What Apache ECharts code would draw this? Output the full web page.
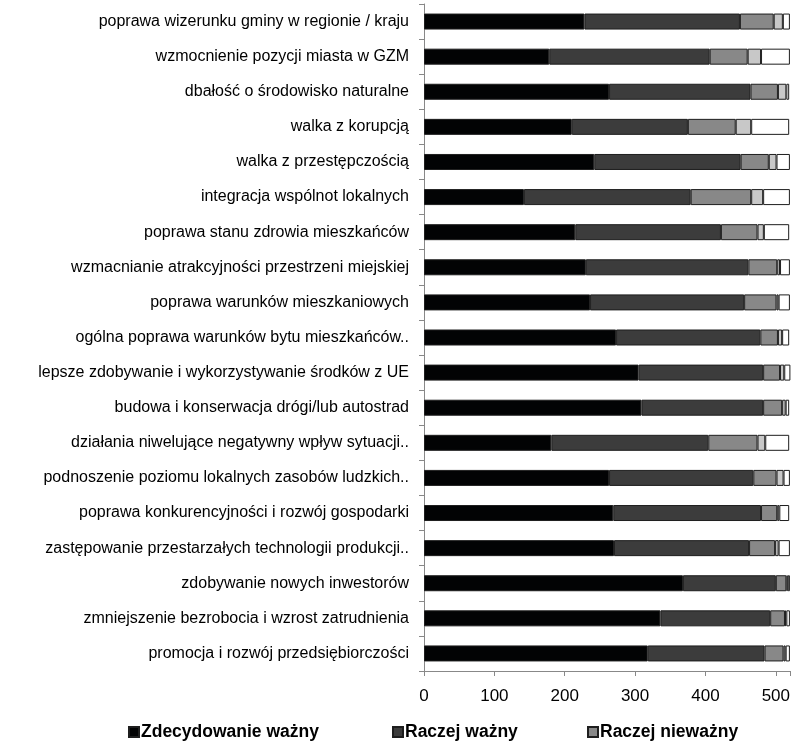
<!DOCTYPE html>
<html>
<head>
<meta charset="utf-8">
<script src="https://cdn.jsdelivr.net/npm/echarts@6/dist/echarts.min.js"></script>
<style>
html,body{margin:0;padding:0;background:#fff;}
#chart{width:793px;height:745px;}
</style>
</head>
<body>
<div id="chart"></div>
<script>
const categories = [
  "poprawa wizerunku gminy w regionie / kraju",
  "wzmocnienie pozycji miasta w GZM",
  "dbałość o środowisko naturalne",
  "walka z korupcją",
  "walka z przestępczością",
  "integracja wspólnot lokalnych",
  "poprawa stanu zdrowia mieszkańców",
  "wzmacnianie atrakcyjności przestrzeni miejskiej",
  "poprawa warunków mieszkaniowych",
  "ogólna poprawa warunków bytu mieszkańców..",
  "lepsze zdobywanie i wykorzystywanie środków z UE",
  "budowa i konserwacja drógi/lub autostrad",
  "działania niwelujące negatywny wpływ sytuacji..",
  "podnoszenie poziomu lokalnych zasobów ludzkich..",
  "poprawa konkurencyjności i rozwój gospodarki",
  "zastępowanie przestarzałych technologii produkcji..",
  "zdobywanie nowych inwestorów",
  "zmniejszenie bezrobocia i wzrost zatrudnienia",
  "promocja i rozwój przedsiębiorczości"
];
const seriesNames = ["Zdecydowanie ważny", "Raczej ważny", "Raczej nieważny", "Zdecydowanie nieważny", "Trudno powiedzieć"];
const zdecydowanieWazny   = [228, 178, 263, 210, 242, 142, 215, 230, 236, 273, 305, 309, 181, 263, 269, 270, 368, 336, 318];
const raczejWazny         = [221, 228, 201, 165, 208, 237, 207, 231, 219, 205, 177, 173, 223, 205, 210, 192, 132, 156, 166];
const raczejNiewazny      = [ 48,  54,  39,  68,  40,  86,  52,  41,  46,  25,  24,  27,  70,  33,  23,  37,  15,  21,  27];
const zdecydowanieNiewazny= [ 13,  19,  12,  22,  11,  17,   9,   4,   3,   6,   6,   5,  11,  10,   3,   5,   2,   2,   3];
const trudnoPowiedziec    = [ 10,  41,   4,  54,  19,  38,  36,  14,  16,  10,   9,   5,  34,   9,  14,  16,   3,   5,   6];
const xTicks = [0, 100, 200, 300, 400, 500];

const values = [zdecydowanieWazny, raczejWazny, raczejNiewazny, zdecydowanieNiewazny, trudnoPowiedziec];
const colors = ["#020304", "#3c3c3c", "#888888", "#c8c8c8", "#ffffff"];
const font = "'Liberation Sans', Arial, sans-serif";

const chart = echarts.init(document.getElementById('chart'));
const legendLefts = [128, 392, 587];
const legends = legendLefts.map((l, i) => ({
  data: [seriesNames[i]],
  left: l,
  top: 723,
  itemWidth: 10,
  itemHeight: 10,
  itemGap: 4,
  icon: 'rect',
  textStyle: {fontFamily: font, fontSize: 17.5, fontWeight: 'bold', color: '#000', padding: [0,0,0,-3]},
  selectedMode: false,
  padding: 0
}));
chart.setOption({
  animation: false,
  backgroundColor: '#fff',
  legend: legends,
  grid: {left: 424, right: 2, top: 4, bottom: 74, containLabel: false},
  xAxis: {
    type: 'value',
    min: 0,
    max: 520,
    interval: 100,
    axisLine: {show: true, lineStyle: {color: '#888', width: 1}},
    axisTick: {show: true, length: 5, lineStyle: {color: '#888'}},
    splitLine: {show: false},
    axisLabel: {
      fontFamily: font, fontSize: 17, color: '#000', margin: 17,
      formatter: v => xTicks.indexOf(v) >= 0 ? String(v) : ''
    }
  },
  yAxis: {
    type: 'category',
    inverse: true,
    data: categories,
    axisLine: {show: true, lineStyle: {color: '#888', width: 1}},
    axisTick: {show: true, length: 5, lineStyle: {color: '#888'}},
    axisLabel: {fontFamily: font, fontSize: 16, color: '#000', margin: 15}
  },
  series: values.map((d, i) => ({
    name: seriesNames[i],
    type: 'bar',
    stack: 'total',
    data: d,
    barWidth: 16,
    itemStyle: {color: colors[i], borderColor: '#1e1e1e', borderWidth: 1}
  }))
});
</script>
</body>
</html>
